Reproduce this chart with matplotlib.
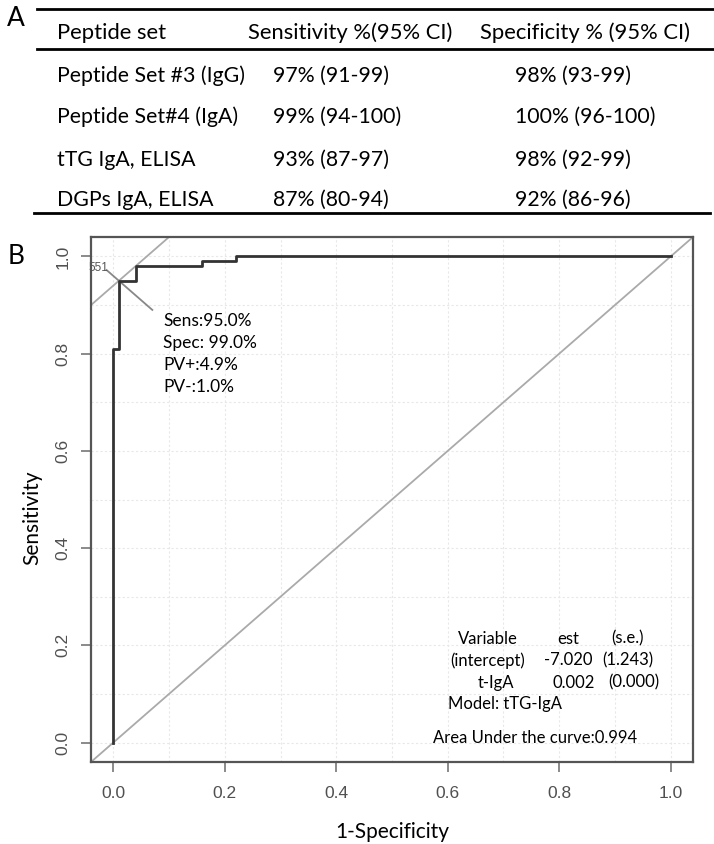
import matplotlib.pyplot as plt
from matplotlib.lines import Line2D
import numpy as np

# table values (panel A)
peptide_sets = ["Peptide Set #3 (IgG)", "Peptide Set#4 (IgA)", "tTG IgA, ELISA", "DGPs IgA, ELISA"]
sensitivity = ["97% (91-99)", "99% (94-100)", "93% (87-97)", "87% (80-94)"]
specificity = ["98% (93-99)", "100% (96-100)", "98% (92-99)", "92% (86-96)"]
headers = ["Peptide set", "Sensitivity %(95% CI)", "Specificity % (95% CI)"]

# ROC curve (panel B)
roc_fpr = [0.0, 0.0, 0.01, 0.04, 0.16, 0.22, 1.0]
roc_tpr = [0.0, 0.81, 0.95, 0.98, 0.99, 1.0, 1.0]
opt_fpr = 0.01
opt_tpr = 0.95
cutoff_label = "551"
ticks = [0.0, 0.2, 0.4, 0.6, 0.8, 1.0]

model_rows = [["Variable", "est", "(s.e.)"],
              ["(intercept)", "-7.020", "(1.243)"],
              ["t-IgA", "0.002", "(0.000)"]]
stats_text = ["Sens:95.0%", "Spec: 99.0%", "PV+:4.9%", "PV-:1.0%"]

W, H = 714, 844
TXT = "Lato"


def fx(px):
    return px / W


def fy(py):
    return 1 - py / H


fig = plt.figure(figsize=(W / 100, H / 100), dpi=100)

# ---- panel A: table ----
fig.text(fx(7), fy(18), "A", fontsize=19, family=TXT, ha="left", va="center")
for y0, x0, x1 in [(9, 37, 714), (49, 37, 714), (213, 34, 710)]:
    fig.add_artist(Line2D([fx(x0), fx(x1)], [fy(y0), fy(y0)], color="black", lw=2,
                          transform=fig.transFigure))

col_head_x = [57, 248, 480]
col_val_x = [57, 273, 515]
row_y = [76, 117, 160, 200]
for x, h in zip(col_head_x, headers):
    fig.text(fx(x), fy(33), h, fontsize=15.8, family=TXT, ha="left", va="center")
for i in range(len(peptide_sets)):
    for x, v in zip(col_val_x, [peptide_sets[i], sensitivity[i], specificity[i]]):
        fig.text(fx(x), fy(row_y[i]), v, fontsize=15.3, family=TXT, ha="left", va="center")

# ---- panel B: ROC ----
fig.text(fx(8), fy(256), "B", fontsize=19, family=TXT, ha="left", va="center")
ax = fig.add_axes([fx(91), fy(762), fx(693) - fx(91), fy(237) - fy(762)])
ax.set_xlim(-0.04, 1.04)
ax.set_ylim(-0.04, 1.04)

grid = np.arange(0, 1.01, 0.1)
for g in grid:
    ax.axvline(g, color="#e8e8e8", lw=0.8, ls=(0, (2, 2)), zorder=0)
    ax.axhline(g, color="#e8e8e8", lw=0.8, ls=(0, (2, 2)), zorder=0)

ax.axline((0, 0), (1, 1), color="#aaaaaa", lw=1.3, zorder=1)
ax.axline((opt_fpr, opt_tpr), slope=1, color="#aaaaaa", lw=1.3, zorder=1)
ax.plot([opt_fpr - 0.022, opt_fpr + 0.06], [opt_tpr + 0.022, opt_tpr - 0.06],
        color="#888888", lw=1.3, zorder=1)
ax.plot(roc_fpr, roc_tpr, drawstyle="steps-post", color="#333333", lw=2, zorder=3)
ax.text(-0.026, 0.977, cutoff_label, fontsize=8.5, color="#555555", ha="center", va="center",
        family="Liberation Sans")

for i, s in enumerate(stats_text):
    ax.text(0.09, 0.867 - i * 0.0455, s, fontsize=12.5, family=TXT, ha="left", va="center")

col_cx = [0.672, 0.816, 0.923]
row_cy = [0.214, 0.169, 0.123]
for r, row in enumerate(model_rows):
    cx = list(col_cx)
    if r == 2:
        cx = [0.686, 0.826, 0.934]
    for c, v in enumerate(row):
        ax.text(cx[c], row_cy[r], v, fontsize=12, family=TXT, ha="center", va="center")
ax.text(0.600, 0.080, "Model: tTG-IgA", fontsize=12, family=TXT, ha="left", va="center")
ax.text(0.573, 0.010, "Area Under the curve:0.994", fontsize=12, family=TXT, ha="left", va="center")

for sp in ax.spines.values():
    sp.set_color("#555555")
    sp.set_linewidth(1.6)
ax.set_xticks(ticks)
ax.set_yticks(ticks)
ax.set_xticklabels(["%.1f" % t for t in ticks], family="Liberation Sans", fontsize=12.5, color="#505050")
ax.set_yticklabels(["%.1f" % t for t in ticks], family="Liberation Sans", fontsize=12.5, color="#505050",
                   rotation=90, va="center")
ax.tick_params(length=7, width=1.2, color="#777777", pad=10)
ax.tick_params(axis="y", pad=8)

fig.text(fx(32), fy(518), "Sensitivity", fontsize=15, family=TXT, rotation=90, ha="center", va="center")
fig.text(fx(392), fy(832), "1-Specificity", fontsize=15, family=TXT, ha="center", va="center")

plt.savefig("out.png", dpi=100)
